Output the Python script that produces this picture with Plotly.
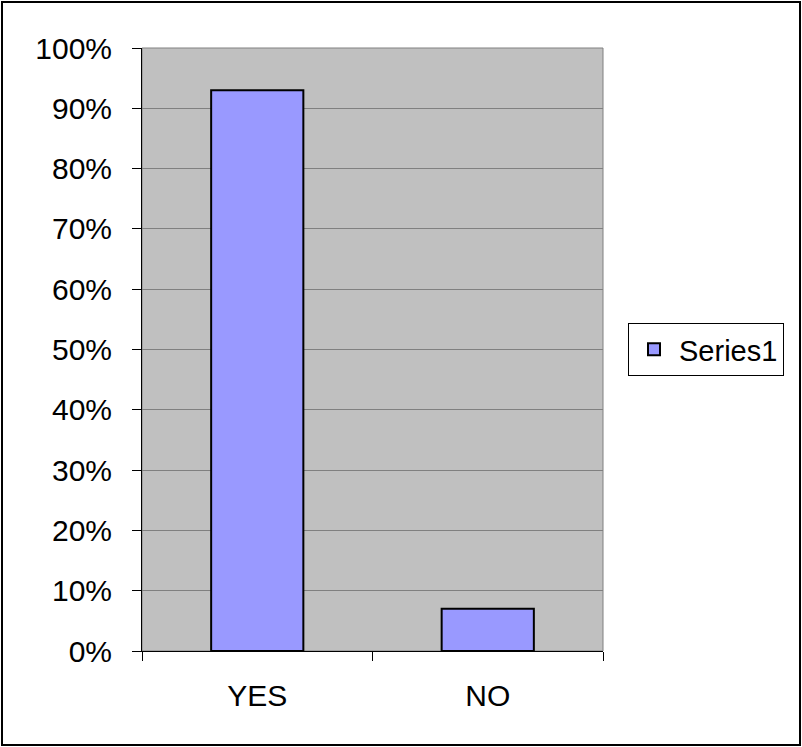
import plotly.graph_objects as go

categories = ["YES", "NO"]
values = [0.93, 0.07]
series_name = "Series1"
y_ticks = [0, 0.1, 0.2, 0.3, 0.4, 0.5, 0.6, 0.7, 0.8, 0.9, 1.0]

W, H = 802, 747
ML, MR, MT, MB = 142, 199, 48, 96
PW, PH = W - ML - MR, H - MT - MB

def px(x):
    return (x - ML) / PW

def py(y):
    return (H - MB - y) / PH

fig = go.Figure()
fig.add_trace(go.Bar(
    x=categories, y=values, name=series_name,
    marker=dict(color="#9999ff", line=dict(color="black", width=2)),
    showlegend=True,
))

fig.update_layout(
    width=W, height=H,
    margin=dict(l=ML, r=MR, t=MT, b=MB, pad=0),
    paper_bgcolor="white",
    plot_bgcolor="#c0c0c0",
    font=dict(family="Liberation Sans, Arial, sans-serif", size=30, color="black"),
    bargap=0.6,
    showlegend=True,
    legend=dict(
        x=px(628), xanchor="left", y=0.5, yanchor="middle",
        bordercolor="black", borderwidth=1, bgcolor="white",
        font=dict(size=29), itemwidth=40, entrywidth=164, entrywidthmode="pixels",
    ),
    xaxis=dict(
        type="category", showline=True, linecolor="black", linewidth=1,
        ticks="outside", tickson="boundaries", ticklen=9, tickcolor="black",
        showgrid=False, ticklabelstandoff=18,
    ),
    yaxis=dict(
        range=[0, 1], tickvals=y_ticks, tickformat=".0%",
        showline=True, linecolor="black", linewidth=1,
        ticks="outside", ticklen=9, tickcolor="black",
        showgrid=True, gridcolor="#808080", gridwidth=1,
        zeroline=False, ticklabelstandoff=14,
    ),
    shapes=[
        dict(type="rect", xref="paper", yref="paper", x0=0, x1=1, y0=0, y1=1,
             line=dict(color="#808080", width=1), layer="below"),
        dict(type="rect", xref="paper", yref="paper",
             x0=px(2), x1=px(800), y0=py(745), y1=py(2),
             line=dict(color="black", width=2)),
    ],
)

fig.write_html("out.html", config={"displayModeBar": False},
               post_script="document.body.style.margin='0';document.body.style.overflow='hidden';")
